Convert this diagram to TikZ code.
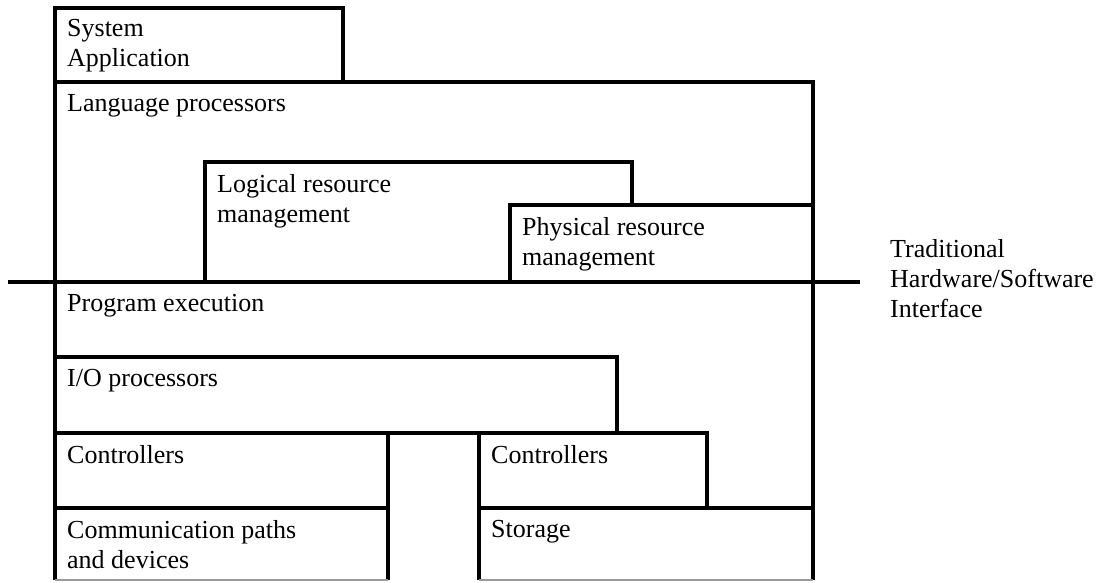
\documentclass[tikz,border=0pt]{standalone}
\usepackage{fontspec}
\setmainfont{Liberation Serif}
\begin{document}
\begin{tikzpicture}[x=1pt,y=-1pt,
  boxline/.style={draw=black,line width=3.2pt,line join=miter},
  cutline/.style={draw=black!40,line width=1.4pt},
  lbl/.style={anchor=north west,inner sep=0pt,align=left,
    font=\fontsize{26}{30}\selectfont},
]
\useasboundingbox (0,0) rectangle (1100,582);
% boxes
\draw[boxline] (55,8) rectangle (343,82);
\draw[boxline] (55,82) rectangle (813,282);
\draw[boxline] (205,282) -- (205,162) -- (632,162) -- (632,205);
\draw[boxline] (510,205) rectangle (813,282);
\draw[boxline] (55,282) -- (55,580);
\draw[boxline] (813,282) -- (813,580);
\draw[boxline] (55,357) rectangle (617,433);
\draw[boxline] (55,433) rectangle (388,508);
\draw[boxline] (388,508) -- (388,580);
\draw[boxline] (479,433) rectangle (707,508);
\draw[boxline] (479,508) -- (813,508);
\draw[boxline] (479,508) -- (479,580);
\draw[cutline] (55,580) -- (388,580);
\draw[cutline] (479,580) -- (813,580);
% interface line
\draw[boxline] (8,282) -- (860,282);
% labels
\node[lbl] (sys) at (67,19) {System\\Application};
\node[lbl] (lang) at (67,94) {Language processors};
\node[lbl] (logi) at (217,174) {Logical resource\\management};
\node[lbl] (phys) at (522,217) {Physical resource\\management};
\node[lbl] (prog) at (67,294) {Program execution};
\node[lbl] (io) at (67,369) {I/O processors};
\node[lbl] (ctl1) at (67,445) {Controllers};
\node[lbl] (comm) at (67,520) {Communication paths\\and devices};
\node[lbl] (ctl2) at (491,445) {Controllers};
\node[lbl] (stor) at (491,520) {Storage};
\node[lbl] (hwsw) at (890,239) {Traditional\\Hardware/Software\\Interface};
\end{tikzpicture}
\end{document}
